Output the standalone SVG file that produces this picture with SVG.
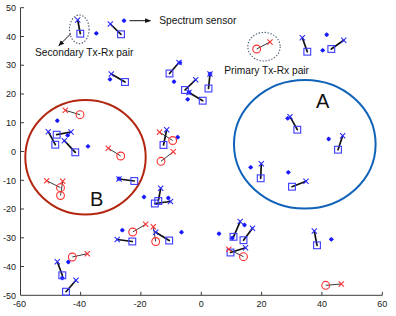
<svg xmlns="http://www.w3.org/2000/svg" width="396" height="316" viewBox="0 0 396 316">
<style>
.ax{stroke:#3c3c3c;stroke-width:1;fill:none}
.tl{font-family:"Liberation Sans",Arial,sans-serif;font-size:9px;fill:#222}
.lbl{font-family:"Liberation Sans",Arial,sans-serif;font-size:10.2px;fill:#111}
.big{font-family:"Liberation Sans",Arial,sans-serif;font-size:20px;fill:#111}
.sec{stroke:#111;stroke-width:1.7;stroke-linecap:round}
.pri{stroke:#222;stroke-width:0.9}
.ann{stroke:#111;stroke-width:1}
.ell{fill:none;stroke:#4a5a70;stroke-width:1.1;stroke-dasharray:1.4 1.6}
</style>
<defs>
<g id="sq"><rect x="-3.4" y="-3.4" width="6.8" height="6.8" fill="none" stroke="#3b3bff" stroke-width="1.1"/></g>
<g id="xb"><path d="M-2.6,-2.6L2.6,2.6M-2.6,2.6L2.6,-2.6" stroke="#2b2bff" stroke-width="1.1"/></g>
<g id="xr"><path d="M-2.6,-2.6L2.6,2.6M-2.6,2.6L2.6,-2.6" stroke="#ff3030" stroke-width="1.1"/></g>
<g id="ci"><circle r="3.9" fill="none" stroke="#ff3030" stroke-width="1.1"/></g>
<g id="dt"><circle r="1.9" fill="#1a1aff"/><path d="M-2.3,0H2.3M0,-2.3V2.3" stroke="#1a1aff" stroke-width="0.8"/></g>
<marker id="ah" viewBox="0 0 10 10" refX="9" refY="5" markerWidth="6" markerHeight="6" orient="auto" markerUnits="userSpaceOnUse"><path d="M0,1L10,5L0,9z" fill="#111"/></marker>
</defs>
<rect width="396" height="316" fill="#fff"/>
<g id="axes">
<path class="ax" d="M20.5,7.7V295.3H382.3"/>
<path class="ax" d="M80.6,295.3v-3.5M140.9,295.3v-3.5M201.3,295.3v-3.5M261.6,295.3v-3.5M321.9,295.3v-3.5M382.3,295.3v-3.5"/>
<path class="ax" d="M20.5,7.7h3.5M20.5,36.5h3.5M20.5,65.2h3.5M20.5,94h3.5M20.5,122.7h3.5M20.5,151.5h3.5M20.5,180.3h3.5M20.5,209h3.5M20.5,237.8h3.5M20.5,266.5h3.5"/>
<g class="tl" text-anchor="end">
<text x="16" y="10.9">50</text><text x="16" y="39.7">40</text><text x="16" y="68.4">30</text><text x="16" y="97.2">20</text><text x="16" y="125.9">10</text><text x="16" y="154.7">0</text><text x="16" y="183.5">-10</text><text x="16" y="212.2">-20</text><text x="16" y="241">-30</text><text x="16" y="269.7">-40</text><text x="16" y="298.5">-50</text>
</g>
<g class="tl" text-anchor="middle">
<text x="19.5" y="307">-60</text><text x="79.6" y="307">-40</text><text x="140" y="307">-20</text><text x="201.3" y="307">0</text><text x="261.6" y="307">20</text><text x="321.9" y="307">40</text><text x="382.3" y="307">60</text>
</g>
</g>
<g id="regionA"><ellipse cx="304.8" cy="144.3" rx="70.8" ry="64.3" fill="none" stroke="#0f62b8" stroke-width="2"/><text class="big" x="322.7" y="108" text-anchor="middle">A</text></g>
<g id="regionB"><ellipse cx="85.5" cy="157.3" rx="60.2" ry="57.3" fill="none" stroke="#b3260f" stroke-width="2"/><text class="big" x="96.7" y="206" text-anchor="middle">B</text></g>
<g id="connectors">
<line class="sec" x1="77.7" y1="20" x2="80.3" y2="33.7"/>
<line class="sec" x1="110.3" y1="24" x2="121" y2="34.3"/>
<line class="sec" x1="111.3" y1="74" x2="125" y2="82"/>
<line class="sec" x1="179" y1="62.5" x2="169.5" y2="73.5"/>
<line class="sec" x1="195.7" y1="79.7" x2="185" y2="90"/>
<line class="sec" x1="189" y1="92.5" x2="202.7" y2="100.7"/>
<line class="sec" x1="210" y1="74" x2="208.5" y2="88.5"/>
<line class="sec" x1="302.3" y1="37.7" x2="307.3" y2="51.7"/>
<line class="sec" x1="343.7" y1="40.3" x2="331.3" y2="49"/>
<line class="sec" x1="290" y1="116.7" x2="297.3" y2="129.7"/>
<line class="sec" x1="342.7" y1="135.7" x2="338" y2="149.7"/>
<line class="sec" x1="261.3" y1="163.7" x2="260.7" y2="178.3"/>
<line class="sec" x1="306" y1="181.3" x2="292" y2="186.7"/>
<line class="sec" x1="48.3" y1="131.7" x2="55.3" y2="144.7"/>
<line class="sec" x1="71" y1="132" x2="56.7" y2="134.7"/>
<line class="sec" x1="64.3" y1="140.7" x2="75.3" y2="152.3"/>
<line class="sec" x1="119" y1="179" x2="134.3" y2="181"/>
<line class="sec" x1="160.7" y1="188.3" x2="158.3" y2="201"/>
<line class="sec" x1="170.5" y1="201.5" x2="154.8" y2="203.5"/>
<line class="sec" x1="166.7" y1="129.8" x2="163.5" y2="145"/>
<line class="sec" x1="155.7" y1="232.2" x2="169.2" y2="240.5"/>
<line class="sec" x1="117.2" y1="239.5" x2="132.3" y2="241.5"/>
<line class="sec" x1="57.3" y1="261.7" x2="62.3" y2="275.3"/>
<line class="sec" x1="76" y1="280.3" x2="66" y2="291.7"/>
<line class="sec" x1="240.2" y1="221.5" x2="233.5" y2="236.8"/>
<line class="sec" x1="252.5" y1="228.2" x2="243.5" y2="240.2"/>
<line class="sec" x1="245.5" y1="247.7" x2="230.5" y2="252.5"/>
<line class="sec" x1="314.3" y1="231" x2="317" y2="245.3"/>
<line class="pri" x1="270" y1="42" x2="256.7" y2="49"/>
<line class="pri" x1="65.3" y1="110.3" x2="80" y2="114.7"/>
<line class="pri" x1="108.3" y1="148.3" x2="120.7" y2="156"/>
<line class="pri" x1="46.7" y1="180.7" x2="60.5" y2="187.7"/>
<line class="pri" x1="62.7" y1="181.3" x2="60.5" y2="195.5"/>
<line class="pri" x1="159.5" y1="132.2" x2="172.7" y2="140.5"/>
<line class="pri" x1="173.3" y1="151.7" x2="161" y2="161.3"/>
<line class="pri" x1="145.7" y1="224.3" x2="132.7" y2="232"/>
<line class="pri" x1="153.3" y1="226.7" x2="155.7" y2="241.5"/>
<line class="pri" x1="87.3" y1="253.7" x2="72.3" y2="257"/>
<line class="pri" x1="228.8" y1="249.3" x2="243.5" y2="256.7"/>
<line class="pri" x1="341.3" y1="284" x2="325.7" y2="285.3"/>
<line class="ann" x1="129.5" y1="20.7" x2="150.5" y2="20.7" marker-end="url(#ah)"/>
<line class="ann" x1="71" y1="33.5" x2="58.8" y2="45.7" marker-end="url(#ah)"/>
</g>
<g id="annotations">
<ellipse class="ell" cx="79.3" cy="29.3" rx="9.8" ry="14.3"/>
<ellipse class="ell" cx="264" cy="46.7" rx="16.2" ry="14.3"/>
<text class="lbl" x="159.3" y="23.8">Spectrum sensor</text>
<text class="lbl" x="35" y="56">Secondary Tx-Rx pair</text>
<text class="lbl" x="224.3" y="74">Primary Tx-Rx pair</text>
</g>
<g id="sensors">
<use href="#dt" x="96.3" y="33.3"/><use href="#dt" x="124" y="20.7"/><use href="#dt" x="110" y="79.3"/><use href="#dt" x="174" y="81.7"/><use href="#dt" x="180" y="62.7"/><use href="#dt" x="187.7" y="99.3"/><use href="#dt" x="189" y="92.5"/><use href="#dt" x="210" y="74"/><use href="#dt" x="326.7" y="34.7"/><use href="#dt" x="322.7" y="50.3"/><use href="#dt" x="287.7" y="118.3"/><use href="#dt" x="328.7" y="139"/><use href="#dt" x="250.7" y="167.3"/><use href="#dt" x="288.3" y="172.3"/><use href="#dt" x="57.3" y="120.7"/><use href="#dt" x="67.7" y="135.3"/><use href="#dt" x="88" y="146.3"/><use href="#dt" x="119" y="178.7"/><use href="#dt" x="144" y="197"/><use href="#dt" x="168.3" y="198"/><use href="#dt" x="177.7" y="137.2"/><use href="#dt" x="122.3" y="230.2"/><use href="#dt" x="181.5" y="232.2"/><use href="#dt" x="68.3" y="262"/><use href="#dt" x="62.3" y="278"/><use href="#dt" x="219" y="233.7"/><use href="#dt" x="244.5" y="225"/><use href="#dt" x="232.3" y="238"/><use href="#dt" x="331.3" y="239.3"/>
</g>
<g id="secondary-pairs">
<g id="s1"><use href="#xb" x="77.7" y="20"/><use href="#sq" x="80.3" y="33.7"/></g>
<g id="s2"><use href="#xb" x="110.3" y="24"/><use href="#sq" x="121" y="34.3"/></g>
<g id="s3"><use href="#xb" x="111.3" y="74"/><use href="#sq" x="125" y="82"/></g>
<g id="s4"><use href="#xb" x="179" y="62.5"/><use href="#sq" x="169.5" y="73.5"/></g>
<g id="s5"><use href="#xb" x="195.7" y="79.7"/><use href="#sq" x="185" y="90"/></g>
<g id="s6"><use href="#xb" x="189" y="92.5"/><use href="#sq" x="202.7" y="100.7"/></g>
<g id="s7"><use href="#xb" x="210" y="74"/><use href="#sq" x="208.5" y="88.5"/></g>
<g id="s8"><use href="#xb" x="302.3" y="37.7"/><use href="#sq" x="307.3" y="51.7"/></g>
<g id="s9"><use href="#xb" x="343.7" y="40.3"/><use href="#sq" x="331.3" y="49"/></g>
<g id="s10"><use href="#xb" x="290" y="116.7"/><use href="#sq" x="297.3" y="129.7"/></g>
<g id="s11"><use href="#xb" x="342.7" y="135.7"/><use href="#sq" x="338" y="149.7"/></g>
<g id="s12"><use href="#xb" x="261.3" y="163.7"/><use href="#sq" x="260.7" y="178.3"/></g>
<g id="s13"><use href="#xb" x="306" y="181.3"/><use href="#sq" x="292" y="186.7"/></g>
<g id="s14"><use href="#xb" x="48.3" y="131.7"/><use href="#sq" x="55.3" y="144.7"/></g>
<g id="s15"><use href="#xb" x="71" y="132"/><use href="#sq" x="56.7" y="134.7"/></g>
<g id="s16"><use href="#xb" x="64.3" y="140.7"/><use href="#sq" x="75.3" y="152.3"/></g>
<g id="s17"><use href="#xb" x="119" y="179"/><use href="#sq" x="134.3" y="181"/></g>
<g id="s18"><use href="#xb" x="160.7" y="188.3"/><use href="#sq" x="158.3" y="201"/></g>
<g id="s19"><use href="#xb" x="170.5" y="201.5"/><use href="#sq" x="154.8" y="203.5"/></g>
<g id="s20"><use href="#xb" x="166.7" y="129.8"/><use href="#sq" x="163.5" y="145"/></g>
<g id="s21"><use href="#xb" x="155.7" y="232.2"/><use href="#sq" x="169.2" y="240.5"/></g>
<g id="s22"><use href="#xb" x="117.2" y="239.5"/><use href="#sq" x="132.3" y="241.5"/></g>
<g id="s23"><use href="#xb" x="57.3" y="261.7"/><use href="#sq" x="62.3" y="275.3"/></g>
<g id="s24"><use href="#xb" x="76" y="280.3"/><use href="#sq" x="66" y="291.7"/></g>
<g id="s25"><use href="#xb" x="240.2" y="221.5"/><use href="#sq" x="233.5" y="236.8"/></g>
<g id="s26"><use href="#xb" x="252.5" y="228.2"/><use href="#sq" x="243.5" y="240.2"/></g>
<g id="s27"><use href="#xb" x="245.5" y="247.7"/><use href="#sq" x="230.5" y="252.5"/></g>
<g id="s28"><use href="#xb" x="314.3" y="231"/><use href="#sq" x="317" y="245.3"/></g>
</g>
<g id="primary-pairs">
<g id="p1"><use href="#xr" x="270" y="42"/><use href="#ci" x="256.7" y="49"/></g>
<g id="p2"><use href="#xr" x="65.3" y="110.3"/><use href="#ci" x="80" y="114.7"/></g>
<g id="p3"><use href="#xr" x="108.3" y="148.3"/><use href="#ci" x="120.7" y="156"/></g>
<g id="p4"><use href="#xr" x="46.7" y="180.7"/><use href="#ci" x="60.5" y="187.7"/></g>
<g id="p5"><use href="#xr" x="62.7" y="181.3"/><use href="#ci" x="60.5" y="195.5"/></g>
<g id="p6"><use href="#xr" x="159.5" y="132.2"/><use href="#ci" x="172.7" y="140.5"/></g>
<g id="p7"><use href="#xr" x="173.3" y="151.7"/><use href="#ci" x="161" y="161.3"/></g>
<g id="p8"><use href="#xr" x="145.7" y="224.3"/><use href="#ci" x="132.7" y="232"/></g>
<g id="p9"><use href="#xr" x="153.3" y="226.7"/><use href="#ci" x="155.7" y="241.5"/></g>
<g id="p10"><use href="#xr" x="87.3" y="253.7"/><use href="#ci" x="72.3" y="257"/></g>
<g id="p11"><use href="#xr" x="228.8" y="249.3"/><use href="#ci" x="243.5" y="256.7"/></g>
<g id="p12"><use href="#xr" x="341.3" y="284"/><use href="#ci" x="325.7" y="285.3"/></g>
</g>
</svg>
